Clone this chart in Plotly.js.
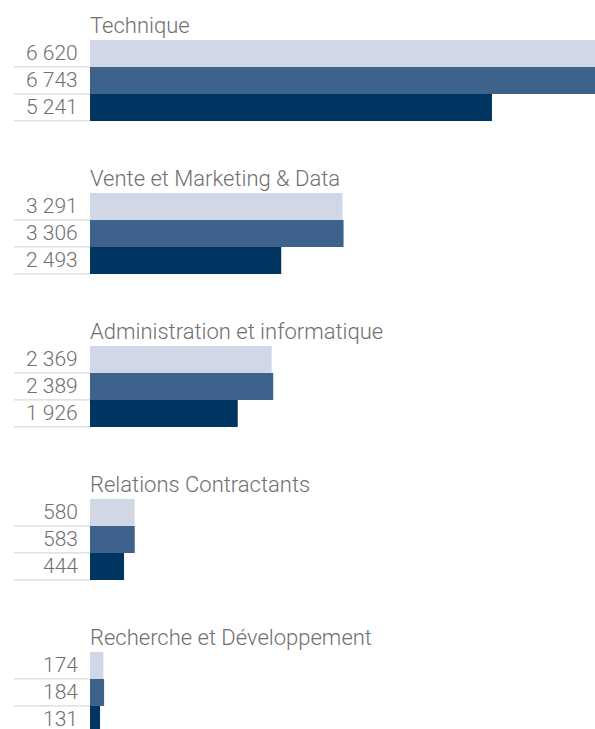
<!DOCTYPE html>
<html><head><meta charset="utf-8">
<script src="https://cdn.plot.ly/plotly-3.0.1.min.js"></script>
<style>html,body{margin:0;padding:0;background:#fff}#c{width:595px;height:729px}</style>
</head><body><div id="c"></div>
<script>
const categories = ["Technique","Vente et Marketing & Data","Administration et informatique","Relations Contractants","Recherche et Développement"];
const seriesNames = ["Série 1","Série 2","Série 3"];
const series1 = [6620, 3291, 2369, 580, 174];
const series2 = [6743, 3306, 2389, 583, 184];
const series3 = [5241, 2493, 1926, 444, 131];
const seriesValues = [series1, series2, series3];
const colors = ["#d1d7e7", "#3d628c", "#003562"];

const GROUP = 153/27;
const fmt = v => String(v).replace(/\B(?=(\d{3})+(?!\d))/g, "\u00a0");
const pos = (g, s) => g*GROUP + s;

const traces = seriesValues.map((vals, s) => ({
  type: "bar", orientation: "h", name: seriesNames[s],
  x: vals, y: vals.map((v, g) => pos(g, s)),
  width: 1, marker: {color: colors[s], line: {width: 0}},
  hoverinfo: "x"
}));

const annotations = [];
const shapes = [];
const titleFont = {family: "Roboto, 'DejaVu Sans', sans-serif", size: 22, color: "#707070", weight: 300};
const valueFont = {family: "Roboto, 'DejaVu Sans', sans-serif", size: 21, color: "#707070", weight: 300};
categories.forEach((c, g) => {
  annotations.push({xref: "paper", yref: "y", x: 0, y: pos(g, -1), text: c, showarrow: false,
    xanchor: "left", yanchor: "middle", font: titleFont, xshift: -2, yshift: 1});
  seriesValues.forEach((vals, s) => {
    annotations.push({xref: "paper", yref: "y", x: 0, y: pos(g, s), text: fmt(vals[g]), showarrow: false,
      xanchor: "right", yanchor: "middle", xshift: -10, font: valueFont});
    shapes.push({type: "line", xref: "paper", yref: "y", x0: -76/505, x1: 0, y0: pos(g, s) + 0.5, y1: pos(g, s) + 0.5,
      line: {color: "#d9d9d9", width: 1.2}, layer: "below"});
  });
});

const layout = {
  width: 595, height: 729,
  margin: {l: 90, r: 0, t: 0, b: 0},
  paper_bgcolor: "#fff", plot_bgcolor: "#fff",
  barmode: "overlay", showlegend: false,
  xaxis: {range: [0, 505/0.0767], visible: false, fixedrange: true},
  yaxis: {range: [25.02, -1.98], visible: false, fixedrange: true},
  annotations, shapes
};
Plotly.newPlot("c", traces, layout, {displayModeBar: false, staticPlot: true});
</script></body></html>
